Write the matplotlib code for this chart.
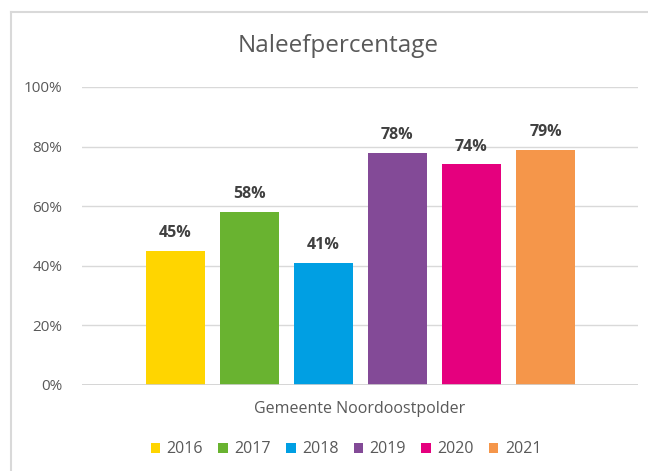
"""
Naleefpercentage bar chart
"""

import matplotlib.pyplot as plt
from matplotlib.lines import Line2D
from matplotlib.patches import Patch

# Data
Years   = ['2016', '2017', '2018', '2019', '2020', '2021']
Values  = [45, 58, 41, 78, 74, 79]
Colors  = ['#FFD500', '#69B330', '#009FE3', '#834A97', '#E5007E', '#F5964A']
Yticks  = [0, 20, 40, 60, 80, 100]
Category = 'Gemeente Noordoostpolder'
Title   = 'Naleefpercentage'

plt.rcParams['font.family'] = ['Open Sans', 'DejaVu Sans']

# Create figure
fig = plt.figure(figsize=(6.48, 4.71), dpi=100)
ax = fig.add_axes([0.1265, 0.1826, 0.8581, 0.6327])

# Plot bars
pos = list(range(len(Years)))
bars = ax.bar(pos, Values, width=0.8, color=Colors, zorder=3)
for b, v in zip(bars, Values):
	ax.annotate('{}%'.format(v), (b.get_x() + b.get_width() / 2, v), xytext=(0, 7),
		textcoords='offset points', ha='center', va='bottom',
		fontsize=11.5, fontweight='bold', color='#404040')

# Axes configuration
ax.set_xlim(-1.26, 6.25)
ax.set_ylim(0, 100)
ax.set_yticks(Yticks)
ax.set_yticklabels(['{}%'.format(t) for t in Yticks], color='#595959', fontsize=11)
ax.set_xticks([])
ax.tick_params(axis='y', length=0, pad=14)
for s in ax.spines.values(): s.set_visible(False)
ax.grid(axis='y', color='#d9d9d9', linewidth=1, zorder=0)
ax.axhline(0, color='#d0d0d0', linewidth=1.2, zorder=4)

# Title and category label
fig.text(0.522, 0.902, Title, ha='center', va='center', fontsize=17.5, color='#595959')
fig.text(0.555, 0.131, Category, ha='center', va='center', fontsize=11.5, color='#595959')

# Legend
handles = [Patch(facecolor=c, edgecolor='none', label=y) for c, y in zip(Colors, Years)]
fig.legend(handles=handles, loc='center', bbox_to_anchor=(0.534, 0.046), ncol=6,
	frameon=False, fontsize=11.5, handlelength=0.6, handleheight=0.6,
	handletextpad=0.4, columnspacing=0.95, labelcolor='#595959')

# Chart border (top and left visible)
fig.add_artist(Line2D([0.017, 0.017], [0.0, 0.975], color='#d9d9d9', linewidth=1.5))
fig.add_artist(Line2D([0.017, 1.0], [0.975, 0.975], color='#d9d9d9', linewidth=1.5))

plt.savefig('out.png', dpi=100)
plt.close()
